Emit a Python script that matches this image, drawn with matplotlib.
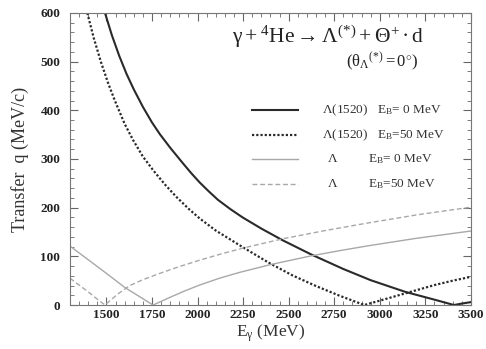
import matplotlib
matplotlib.use("Agg")
import matplotlib.pyplot as plt
from matplotlib.lines import Line2D

plt.rcParams['font.family'] = ['Liberation Serif', 'DejaVu Serif']
plt.rcParams['mathtext.fontset'] = 'custom'
plt.rcParams['mathtext.rm'] = 'Liberation Serif'
plt.rcParams['mathtext.it'] = 'Liberation Serif'
plt.rcParams['mathtext.bf'] = 'Liberation Serif:bold'

# Lambda(1520), E_B = 0 MeV
e_l1520_0 = [1492, 1530, 1570, 1610, 1650, 1700, 1750, 1793, 1850, 1920, 1965, 2011, 2060, 2112,
             2180, 2247, 2350, 2467, 2623, 2800, 2950, 3140, 3300, 3407, 3450, 3500]
q_l1520_0 = [600, 554, 512, 475, 443, 407, 375, 351, 323, 291, 271, 252, 234, 216,
             197, 180, 157, 133, 104, 74, 51, 27, 11, 0, 3, 6]

# Lambda(1520), E_B = 50 MeV
e_l1520_50 = [1395, 1430, 1470, 1510, 1546, 1600, 1646, 1700, 1756, 1820, 1884, 1950,
              2011, 2100, 2247, 2395, 2520, 2650, 2780, 2915, 3000, 3140, 3300, 3400, 3500]
q_l1520_50 = [600, 549, 499, 455, 420, 372, 339, 305, 277, 248, 222, 198,
              178, 153, 119, 86, 61, 39, 19, 0, 9, 24, 41, 50, 58]

# Lambda, E_B = 0 MeV
e_l_0 = [1300, 1400, 1500, 1601, 1700, 1756, 1850, 1930, 2011, 2120, 2230, 2400,
         2623, 2800, 2942, 3200, 3500]
q_l_0 = [121, 93, 65, 36, 13, 0, 16, 29, 41, 55, 67, 83,
         101, 113, 122, 137, 152]

# Lambda, E_B = 50 MeV
e_l_50 = [1300, 1350, 1400, 1450, 1492, 1560, 1628, 1700, 1793, 1900, 2011, 2130,
          2250, 2467, 2700, 2942, 3200, 3500]
q_l_50 = [55, 41, 27, 12, 0, 22, 40, 52, 65, 79, 92, 105,
          117, 136, 153, 169, 185, 201]

x_ticks = [1500, 1750, 2000, 2250, 2500, 2750, 3000, 3250, 3500]
y_ticks = [0, 100, 200, 300, 400, 500, 600]

legend_names = [r'$\Lambda$(1520)', r'$\Lambda$(1520)', r'$\Lambda$', r'$\Lambda$']
legend_eb = [r'E$_\mathrm{B}$= 0 MeV', r'E$_\mathrm{B}$=50 MeV',
             r'E$_\mathrm{B}$= 0 MeV', r'E$_\mathrm{B}$=50 MeV']

dark = '#2a2a2a'
light = '#a8a8a8'
styles = [
    dict(color=dark, lw=1.5, ls='-'),
    dict(color=dark, lw=1.6, ls=(0, (1.0, 0.9))),
    dict(color=light, lw=1.0, ls='-'),
    dict(color=light, lw=1.0, ls=(0, (3.5, 2.0))),
]

fig = plt.figure(figsize=(4.86, 3.49), dpi=100)
ax = fig.add_axes([0.144, 0.126, 0.825, 0.837])

series = [(e_l1520_0, q_l1520_0), (e_l1520_50, q_l1520_50), (e_l_0, q_l_0), (e_l_50, q_l_50)]
for (e, q), st in zip(series, styles):
    ax.plot(e, q, **st)

ax.set_xlim(1300, 3500)
ax.set_ylim(0, 600)
ax.set_xticks(x_ticks)
ax.set_yticks(y_ticks)
ax.set_xticks(range(1300, 3501, 50), minor=True)
ax.set_yticks(range(0, 601, 20), minor=True)
ax.tick_params(which='both', direction='in', top=True, right=True, colors='#666666')
ax.tick_params(which='major', length=6, width=0.8, labelcolor='#222222', labelsize=9.5)
ax.tick_params(which='minor', length=3, width=0.6)
ax.tick_params(axis='y', pad=7)
ax.tick_params(axis='x', pad=3)
for lab in ax.get_xticklabels() + ax.get_yticklabels():
    lab.set_fontweight('bold')
for sp in ax.spines.values():
    sp.set_color('#777777')
    sp.set_linewidth(0.8)

ax.set_xlabel(r'E$_\gamma$ (MeV)', fontsize=12.5, color='#333333', labelpad=1)
ax.set_ylabel('Transfer  q (MeV/c)', fontsize=13, color='#333333', labelpad=8)

ax.text(0.644, 0.918, r'$\gamma + {}^{4}\mathrm{He} \rightarrow \Lambda^{(*)} + \Theta^{+} \bullet \mathrm{d}$',
        transform=ax.transAxes, ha='center', va='center', fontsize=15.5, color='#222222')
ax.text(0.78, 0.832, r'$(\theta_{\Lambda}{}^{(*)} = 0^{\circ})$',
        transform=ax.transAxes, ha='center', va='center', fontsize=12, color='#222222')

rows_y = [0.668, 0.582, 0.500, 0.414]
for i, (st, nm, eb) in enumerate(zip(styles, legend_names, legend_eb)):
    y = rows_y[i]
    ax.add_line(Line2D([0.454, 0.569], [y, y], transform=ax.transAxes, **st))
    if i < 2:
        ax.text(0.628, y, nm, transform=ax.transAxes, ha='left', va='center',
                fontsize=9.5, color='#333333')
        ax.text(0.765, y, eb, transform=ax.transAxes, ha='left', va='center',
                fontsize=9.5, color='#333333')
    else:
        ax.text(0.656, y, nm, transform=ax.transAxes, ha='center', va='center',
                fontsize=9.5, color='#333333')
        ax.text(0.743, y, eb, transform=ax.transAxes, ha='left', va='center',
                fontsize=9.5, color='#333333')

fig.savefig('out.png', dpi=100)
